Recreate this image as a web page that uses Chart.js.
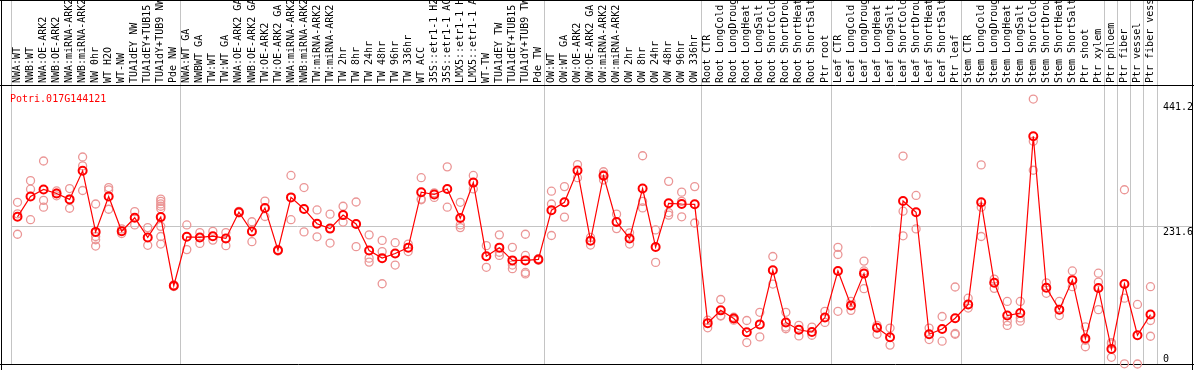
<!DOCTYPE html>
<html>
<head>
<meta charset="utf-8">
<script src="https://cdn.jsdelivr.net/npm/chart.js@4.4.0/dist/chart.umd.min.js"></script>
<style>
html, body { margin: 0; padding: 0; background: #fff; overflow: hidden; }
</style>
</head>
<body>
<canvas id="chart" width="1194" height="370"></canvas>
<script>
var geneName = 'Potri.017G144121';

var samples = [
    'NWA:WT', 'NWB:WT', 'NWA:OE-ARK2', 'NWB:OE-ARK2', 'NWA:miRNA-ARK2', 'NWB:miRNA-ARK2',
    'NW 0hr', 'WT H2O', 'WT-NW', 'TUA1dEY NW', 'TUA1dEY+TUB15', 'TUA1dY+TUB9 NW', 'Pde NW',
    'NWA:WT GA', 'NWBWT GA', 'TW:WT', 'TW:WT GA', 'NWA:OE-ARK2 GA', 'NWB:OE-ARK2 GA',
    'TW:OE-ARK2', 'TW:OE-ARK2 GA', 'NWA:miRNA-ARK2', 'NWB:miRNA-ARK2', 'TW:miRNA-ARK2', 'TW:miRNA-ARK2',
    'TW 2hr', 'TW 8hr', 'TW 24hr', 'TW 48hr', 'TW 96hr', 'TW 336hr', 'WT ACC',
    '35S::etr1-1 H2', '35S::etr1-1 AC', 'LMX5::etr1-1 H', 'LMX5::etr1-1 A',
    'WT-TW', 'TUA1dEY TW', 'TUA1dEY+TUB15', 'TUA1dY+TUB9 TW', 'Pde TW',
    'OW:WT', 'OW:WT GA', 'OW:OE-ARK2', 'OW:OE-ARK2 GA', 'OW:miRNA-ARK2', 'OW:miRNA-ARK2',
    'OW 2hr', 'OW 8hr', 'OW 24hr', 'OW 48hr', 'OW 96hr', 'OW 336hr',
    'Root CTR', 'Root LongCold', 'Root LongDroug', 'Root LongHeat', 'Root LongSalt',
    'Root ShortCold', 'Root ShortDrou', 'Root ShortHeat', 'Root ShortSalt', 'Ptr root',
    'Leaf CTR', 'Leaf LongCold', 'Leaf LongDroug', 'Leaf LongHeat', 'Leaf LongSalt',
    'Leaf ShortCold', 'Leaf ShortDrou', 'Leaf ShortHeat', 'Leaf ShortSalt', 'Ptr leaf',
    'Stem CTR', 'Stem LongCold', 'Stem LongDroug', 'Stem LongHeat', 'Stem LongSalt',
    'Stem ShortCold', 'Stem ShortDrou', 'Stem ShortHeat', 'Stem ShortSalt',
    'Ptr shoot', 'Ptr xylem', 'Ptr phloem', 'Ptr fiber', 'Ptr vessel', 'Ptr fiber vess'
];

// first sample of each block (grey separators)
var groupStarts = [0, 13, 41, 53, 63, 73, 84, 85, 86, 87];

var meanValues = [
    248.3, 282.7, 294.4, 287.7, 277.7, 325.9, 222.9, 282.7, 223.9, 246.7, 213.5, 247.8, 132.1,
    214.6, 213.5, 215.6, 211.8, 256.1, 223.4, 263.3, 191.9, 281.1, 261.6, 236.7, 228.4, 251.2,
    236.2, 191.4, 178.6, 186.4, 196.3, 289.9, 286.0, 295.3, 246.2, 306.0, 181.9, 196.3, 174.8,
    174.8, 176.4,
    259.5, 272.8, 326.4, 208.0, 317.6, 239.5, 211.8, 296.0, 197.3, 271.1, 269.9, 269.4,
    68.9, 90.5, 76.7, 53.5, 66.8, 158.1, 70.1, 57.8, 54.0, 78.4,
    157.0, 98.8, 152.5, 61.1, 45.2, 274.9, 256.1, 50.2, 59.0, 77.2,
    100.5, 272.8, 137.0, 81.7, 86.0, 384.1, 128.7, 91.7, 141.5, 42.9, 128.2,
    25.2, 134.9, 48.5, 83.4
];

var replicateValues = [
    [272.8, 253.3, 218.9], [309.3, 294.9, 243.4], [342.5, 276.1, 264.5], [292.0, 288.2, 283.7],
    [296.0, 278.0, 262.8], [349.2, 334.2, 292.7], [269.9, 215.1, 209.6, 199.0], [297.7, 293.7, 261.1],
    [227.9, 220.1], [257.1, 234.6], [230.1, 200.2],
    [278.2, 274.4, 270.0, 266.1, 262.1, 232.2, 215.1, 202.3], [133.5, 130.7],
    [234.6, 193.0], [221.8, 203.5], [223.9, 209.0], [221.8, 199.7], [257.5, 254.8], [240.0, 206.3],
    [274.9, 248.8], [193.2, 190.6], [318.1, 243.4], [297.7, 222.9], [259.9, 214.6], [252.8, 204.0],
    [266.1, 239.5], [273.3, 198.0], [217.9, 178.6, 171.9], [208.5, 189.7, 135.4], [204.7, 166.9],
    [202.3, 189.7], [314.3, 278.2, 277.1], [288.8, 281.1], [332.6, 264.5], [272.8, 234.6, 230.1],
    [318.1, 295.3], [199.7, 163.1], [217.9, 188.5, 183.1], [196.8, 166.9, 160.8],
    [218.9, 183.1, 152.0, 154.5], [177.8, 174.9],
    [291.5, 269.9, 216.8], [299.3, 247.8], [336.4, 314.3], [213.5, 200.7], [324.3, 319.8, 310.4],
    [252.8, 228.4], [221.3, 202.3], [351.3, 274.4, 263.3], [226.2, 171.4], [308.1, 255.5, 251.2],
    [289.9, 274.4, 248.3], [299.3, 237.9],
    [73.9, 61.1], [108.8, 81.7, 81.0], [77.2, 73.9, 78.9], [73.4, 36.2], [87.2, 45.7], [181.4, 134.9],
    [87.2, 62.3, 59.5], [65.1, 47.3], [62.3, 48.5], [88.9, 70.1],
    [196.8, 184.7, 88.9], [105.5, 90.5], [173.6, 157.0, 127.1], [65.1, 50.2], [60.6, 31.9],
    [350.8, 257.8, 216.3], [284.4, 227.9], [60.6, 41.2], [80.1, 38.5], [129.9, 50.2, 51.5],
    [111.0, 94.4], [335.9, 264.5, 215.1], [143.2, 127.6], [105.5, 72.3, 65.1], [105.5, 77.7, 72.3],
    [447.0, 375.7, 326.9], [137.0, 119.3], [105.5, 81.7], [157.0, 130.4], [62.8, 40.0, 29.1],
    [153.2, 138.2, 91.7],
    [36.2, 34.0, 11.3], [294.0, 111.0, 0.3], [100.5, 0.0], [130.4, 73.4, 46.8]
];

var yTicks = [0, 231.6, 441.2];
var gridTick = 231.6;

var repPoints = [];
for (var i = 0; i < replicateValues.length; i++) {
    for (var j = 0; j < replicateValues[i].length; j++) {
        repPoints.push({x: i, y: replicateValues[i][j]});
    }
}

var monoFont = '10px "DejaVu Sans Mono"';
var grey = '#c4c4c4';

var framePlugin = {
    id: 'frame',
    beforeDatasetsDraw: function(chart) {
        var c = chart.ctx;
        var a = chart.chartArea;
        c.save();
        c.strokeStyle = '#000';
        c.lineWidth = 1;
        c.beginPath();
        c.moveTo(0, 0.5); c.lineTo(1194, 0.5);
        c.moveTo(0, a.top - 0.5); c.lineTo(1194, a.top - 0.5);
        c.moveTo(0, a.bottom + 0.5); c.lineTo(1194, a.bottom + 0.5);
        c.moveTo(1.5, 0); c.lineTo(1.5, 370);
        c.moveTo(1192.5, 0); c.lineTo(1192.5, 370);
        c.stroke();
        c.restore();
    },
    afterDraw: function(chart) {
        var c = chart.ctx;
        var a = chart.chartArea;
        var y = chart.scales.y;
        c.save();
        c.font = monoFont;
        c.textAlign = 'left';
        c.textBaseline = 'alphabetic';
        c.fillStyle = '#ff0000';
        c.fillText(geneName, 10, a.top + 15.5);
        c.fillStyle = '#000';
        yTicks.forEach(function(v) {
            var py = y.getPixelForValue(v);
            var by = v === 0 ? py - 2 : py + 8;
            c.fillText(String(v), 1163, by);
        });
        c.restore();
    }
};

var ctx = document.getElementById('chart').getContext('2d');
var chart = new Chart(ctx, {
    type: 'line',
    data: {
        labels: samples,
        datasets: [{
            label: 'mean',
            data: meanValues,
            xAxisID: 'x',
            yAxisID: 'y',
            borderColor: '#ff0000',
            borderWidth: 1.2,
            pointRadius: 4,
            pointBorderWidth: 2,
            pointBorderColor: '#ff0000',
            pointBackgroundColor: 'rgba(255,255,255,0)',
            tension: 0,
            clip: false
        }, {
            label: 'replicates',
            type: 'scatter',
            data: repPoints,
            xAxisID: 'xr',
            yAxisID: 'y',
            showLine: false,
            pointRadius: 4,
            pointBorderWidth: 1.3,
            pointBorderColor: '#eb9696',
            pointBackgroundColor: 'rgba(0,0,0,0)',
            clip: false
        }]
    },
    options: {
        responsive: false,
        animation: false,
        devicePixelRatio: 1,
        layout: { padding: { left: 11, right: 37, top: 0, bottom: 1.5 } },
        plugins: { legend: { display: false }, tooltip: { enabled: false } },
        scales: {
            x: {
                type: 'category',
                position: 'top',
                offset: true,
                grid: {
                    offset: true,
                    tickLength: 86,
                    lineWidth: 1,
                    color: function(c) {
                        if (c.index === undefined || groupStarts.indexOf(c.index) >= 0) return grey;
                        return 'rgba(0,0,0,0)';
                    }
                },
                border: { display: false },
                ticks: {
                    autoSkip: false,
                    minRotation: 90,
                    maxRotation: 90,
                    padding: -83,
                    labelOffset: 12,
                    color: '#000',
                    font: { family: 'DejaVu Sans Mono', size: 10 }
                },
                afterFit: function(s) { s.height = 86; }
            },
            xr: {
                type: 'linear',
                display: false,
                min: -0.5,
                max: samples.length - 0.5
            },
            y: {
                type: 'linear',
                position: 'right',
                min: 0,
                max: 469,
                afterBuildTicks: function(s) {
                    s.ticks = yTicks.map(function(v) { return {value: v}; });
                },
                grid: {
                    drawTicks: true,
                    tickLength: 36,
                    color: function(c) {
                        return c.tick && c.tick.value === gridTick ? grey : 'rgba(0,0,0,0)';
                    }
                },
                border: { display: false },
                ticks: { display: false },
                afterFit: function(s) { s.width = 0; }
            }
        }
    },
    plugins: [framePlugin]
});
</script>
</body>
</html>
